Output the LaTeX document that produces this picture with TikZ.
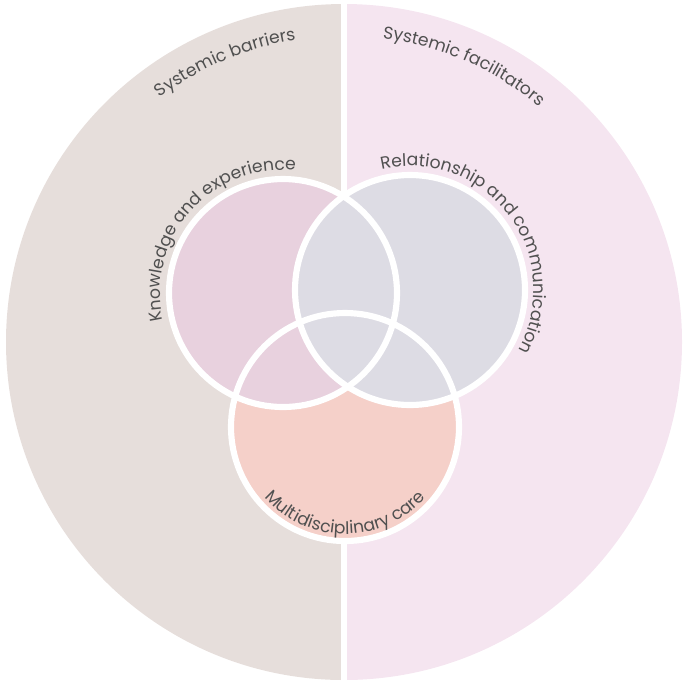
\documentclass[tikz,border=0pt]{standalone}
\usepackage{fontspec}
\setmainfont{Poppins}
\usetikzlibrary{decorations.text}
\definecolor{leftc}{HTML}{E6DEDB}
\definecolor{rightc}{HTML}{F5E5F0}
\definecolor{knowc}{HTML}{E8D1DE}
\definecolor{relc}{HTML}{DDDCE4}
\definecolor{multc}{HTML}{F5D0C9}
\definecolor{txt}{HTML}{505050}
\tikzset{
  venn/.style={draw=white, line width=3.5pt},
  arctext/.style={decorate, decoration={text along path, text align=center,
     text={|\fontsize{9.8}{12}\selectfont\color{txt}|#1}}}
}
\begin{document}
\begin{tikzpicture}[x=0.02cm,y=-0.02cm]
\useasboundingbox (0,0) rectangle (685,684);
\fill[leftc] (344,4) arc[start angle=90,end angle=270,x radius=338,y radius=-338] -- cycle;
\fill[rightc] (344,4) arc[start angle=90,end angle=-90,x radius=338,y radius=-338] -- cycle;
\draw[white, line width=3.5pt] (344,0) -- (344,684);
\coordinate (cO) at (344,342);
\coordinate (cK) at (283,293);
\coordinate (cR) at (410,290);
\coordinate (cM) at (345,427);
\fill[multc] (cM) circle[radius=114];
\fill[knowc] (cK) circle[radius=114];
\fill[relc] (cR) circle[radius=115];
\draw[venn] (cM) circle[radius=114];
\draw[venn] (cK) circle[radius=114];
\draw[venn] (cR) circle[radius=115];
\begin{scope}[x=0.02cm,y=0.02cm]
\path[arctext={Systemic barriers}] (cO) ++(135:306) arc[start angle=135,end angle=91,radius=306];
\path[arctext={Systemic facilitators}] (cO) ++(89:306) arc[start angle=89,end angle=44,radius=306];
\path[arctext={Knowledge and experience}] (cK) ++(205:123) arc[start angle=205,end angle=72,radius=123];
\path[arctext={Relationship and communication}] (cR) ++(112:124) arc[start angle=112,end angle=-38,radius=124];
\path[arctext={Multidisciplinary care}] (cM) ++(210:107) arc[start angle=210,end angle=330,radius=107];
\end{scope}
\end{tikzpicture}
\end{document}
